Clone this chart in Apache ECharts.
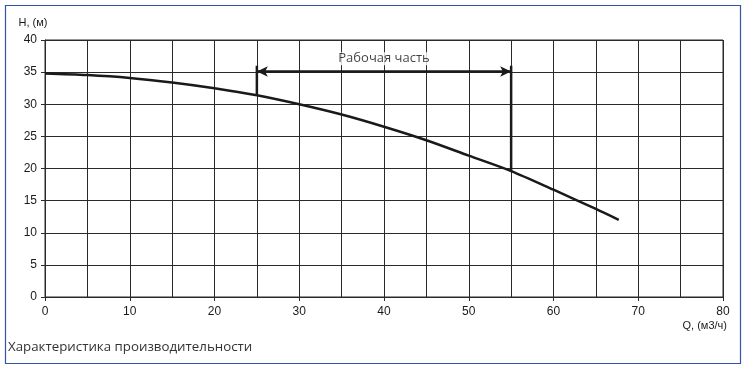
<!DOCTYPE html>
<html>
<head>
<meta charset="utf-8">
<script src="https://cdn.jsdelivr.net/npm/echarts@6/dist/echarts.min.js"></script>
<style>
html,body{margin:0;padding:0;background:#fff;}
#c{width:747px;height:369px;}
</style>
</head>
<body>
<div id="c"></div>
<script>
// Data
var flowQ = [0, 5, 10, 15, 20, 25, 30, 35, 40, 45, 50, 55, 60, 65, 67.7];
var headH = [34.8, 34.55, 34.1, 33.4, 32.5, 31.4, 30.0, 28.4, 26.5, 24.4, 22.0, 19.6, 16.7, 13.7, 12.0];
var workStart = 25, workEnd = 55;
var workStartH = 31.4, workEndH = 19.6;
var arrowH = 35.1, barTopH = 36.0;
var workLabel = 'Рабочая часть';
var xName = 'Q, (м3/ч)';
var yName = 'H, (м)';
var caption = 'Характеристика производительности';

var chart = echarts.init(document.getElementById('c'), null, {renderer: 'canvas'});
var lineColor = '#1a1a1a';
var gridColor = '#2a2a2a';
var labelFont = {fontFamily: 'Liberation Sans', fontSize: 12, color: '#1a1a1a'};
var curve = flowQ.map(function (q, i) { return [q, headH[i]]; });

chart.setOption({
  animation: false,
  backgroundColor: '#fff',
  grid: {left: 45, right: 24, top: 40, bottom: 72, show: true, borderColor: gridColor, borderWidth: 1},
  xAxis: {
    type: 'value', min: 0, max: 80, interval: 10,
    name: xName, nameLocation: 'end', nameGap: 0,
    nameTextStyle: {fontFamily: 'Liberation Sans', fontSize: 11, color: '#1a1a1a', align: 'right', verticalAlign: 'top', padding: [23, -4, 0, 0]},
    axisLine: {show: true, lineStyle: {color: gridColor, width: 1}},
    axisTick: {show: true, length: 4, lineStyle: {color: gridColor}},
    axisLabel: Object.assign({margin: 9}, labelFont),
    splitLine: {show: true, lineStyle: {color: gridColor, width: 1}},
    minorTick: {show: false, splitNumber: 2},
    minorSplitLine: {show: true, lineStyle: {color: gridColor, width: 1}}
  },
  yAxis: {
    type: 'value', min: 0, max: 40, interval: 5,
    name: yName, nameLocation: 'end', nameGap: 12,
    nameTextStyle: {fontFamily: 'Liberation Sans', fontSize: 11, color: '#1a1a1a', align: 'center', padding: [0, 24, 0, 0]},
    axisLine: {show: true, lineStyle: {color: gridColor, width: 1}},
    axisTick: {show: true, length: 4, lineStyle: {color: gridColor}},
    axisLabel: Object.assign({margin: 8}, labelFont),
    splitLine: {show: true, lineStyle: {color: gridColor, width: 1}}
  },
  series: [
    {
      type: 'line', data: curve, smooth: 0.3, showSymbol: false, symbol: 'none',
      lineStyle: {color: lineColor, width: 2.5}, z: 5
    },
    {
      type: 'line', data: [[workStart, workStartH], [workStart, barTopH]], showSymbol: false, symbol: 'none',
      lineStyle: {color: lineColor, width: 2.5}, z: 5
    },
    {
      type: 'line', data: [[workEnd, workEndH], [workEnd, barTopH]], showSymbol: false, symbol: 'none',
      lineStyle: {color: lineColor, width: 2.5}, z: 5
    },
    {
      type: 'line', data: [], z: 6,
      markLine: {
        silent: true, animation: false,
        symbol: ['arrow', 'arrow'], symbolSize: [8, 11],
        label: {show: false},
        lineStyle: {color: lineColor, width: 2.5, type: 'solid'},
        data: [[{coord: [workStart, arrowH]}, {coord: [workEnd, arrowH]}]]
      }
    },
    {
      type: 'scatter', data: [[(workStart + workEnd) / 2, 37.1]], symbolSize: 0, z: 7,
      label: {show: true, position: 'inside', formatter: workLabel,
        fontFamily: 'Open Sans', fontSize: 13, color: '#111', backgroundColor: '#fff', padding: [0, 3]}
    }
  ],
  graphic: [
    {type: 'rect', shape: {x: 5.5, y: 5.5, width: 735, height: 358},
      style: {fill: null, stroke: '#3552a6', lineWidth: 1.2}, silent: true, z: 100},
    {type: 'text', left: 8, top: 341,
      style: {text: caption, font: '13.3px "Open Sans"', fill: '#333'}}
  ]
});
</script>
</body>
</html>
